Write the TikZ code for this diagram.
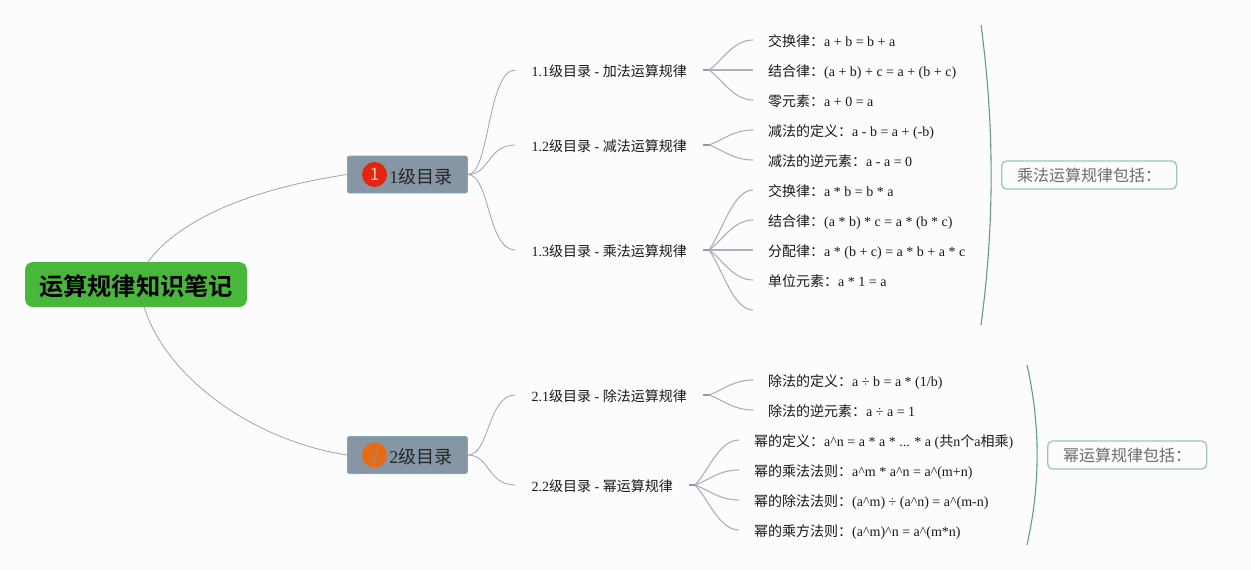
\documentclass[tikz,border=0pt]{standalone}
\usepackage{fontspec}
\setmainfont{Liberation Serif}
\newfontfamily\cjk{Noto Sans CJK SC}[BoldFont={Noto Sans CJK SC Bold}]
\newcommand{\zh}[1]{{\cjk #1}}
\usepackage{tikz}
\usetikzlibrary{positioning,calc}
\definecolor{paper}{HTML}{FCFCFD}
\definecolor{rootgreen}{HTML}{48B83A}
\definecolor{boxgrey}{HTML}{8796A5}
\definecolor{boxedge}{HTML}{7FA9A8}
\definecolor{linegrey}{HTML}{9DA3B0}
\definecolor{fangrey}{HTML}{ABB0BC}
\definecolor{stubgrey}{HTML}{8F99A8}
\definecolor{sumgreen}{HTML}{5F9E8A}
\definecolor{sumedge}{HTML}{9CC7BA}
\definecolor{sumtext}{HTML}{6C6C6C}
\definecolor{badgered}{HTML}{E3260E}
\definecolor{badgeorange}{HTML}{EA6A12}
\tikzstyle{mm_root} = [rectangle, rounded corners=8pt, fill=rootgreen, inner sep=0pt, minimum width=222pt, minimum height=45pt, text height=25pt, text depth=3pt, font=\fontsize{24.2pt}{28pt}\selectfont\bfseries, text=black]
\tikzstyle{mm_main} = [rectangle, rounded corners=2pt, draw=boxedge, fill=boxgrey, line width=0.8pt, inner xsep=15pt, inner ysep=0pt, minimum height=37pt, text height=20pt, text depth=3pt, font=\fontsize{18pt}{22pt}\selectfont, text=black!85]
\tikzstyle{mm_badge} = [circle, inner sep=0pt, minimum size=25pt, font=\fontsize{17pt}{20pt}\selectfont\cjk]
\tikzstyle{mm_sub} = [rectangle, anchor=east, inner xsep=16pt, inner ysep=0pt, text height=16pt, text depth=3pt, font=\fontsize{14pt}{16pt}\selectfont, text=black!90]
\tikzstyle{mm_leaf} = [rectangle, anchor=west, inner xsep=15pt, inner ysep=0pt, text height=16pt, text depth=3pt, font=\fontsize{14pt}{16pt}\selectfont, text=black!90]
\tikzstyle{mm_note} = [rectangle, anchor=west, rounded corners=5pt, draw=sumedge, line width=1.3pt, inner xsep=15.5pt, inner ysep=0pt, minimum height=28pt, font=\fontsize{16pt}{20pt}\selectfont\cjk, text=sumtext]
\tikzstyle{mm_line} = [draw=linegrey, line width=0.8pt]
\tikzstyle{mm_fan} = [draw=fangrey, line width=1.1pt]
\tikzstyle{mm_stub} = [draw=stubgrey, line width=1.6pt]
\tikzstyle{mm_bracket} = [draw=sumgreen, line width=1.1pt]
% curve from a sub topic to one of its leaves
\newcommand{\fanline}[2]{
    \draw[mm_stub] (#1.east) -- ++(7,0);
    \coordinate (fanstart) at ($(#1.east)+(6,0)$);
    \coordinate (fanbend) at ($(fanstart)!.3!(#2.west)$);
    \draw[mm_fan] (fanstart) .. controls (fanbend) and ($(#2.west)+(-20,0)$) .. (#2.west);
}
\newcommand{\mainline}[2]{
    \draw[mm_line] (#1.east) .. controls +(22,0) and +(-28,0) .. (#2.west);
}
\begin{document}
\begin{tikzpicture}[x=1pt,y=-1pt]
\useasboundingbox (0,0) rectangle (1251,570);
\fill[paper] (0,0) rectangle (1251,570);

\node [mm_root] (root) at (136,284.5) {\zh{运算规律知识笔记}};

% first main topic
\node [mm_main, anchor=west] (main1) at (347,174.5) {\hspace*{27pt}1\zh{级目录}};
\node [mm_badge, fill=badgered, text=white!75!badgered, right=27.5pt of main1.west, anchor=center] (badge1) {1};

\node [mm_sub] (sub11) at (703,70) {1.1\zh{级目录} - \zh{加法运算规律}};
\node [mm_sub] (sub12) at (703,145) {1.2\zh{级目录} - \zh{减法运算规律}};
\node [mm_sub] (sub13) at (703,250) {1.3\zh{级目录} - \zh{乘法运算规律}};

\node [mm_leaf] (leaf111) at (753,40) {\zh{交换律：}a + b = b + a};
\node [mm_leaf] (leaf112) at (753,70) {\zh{结合律：}(a + b) + c = a + (b + c)};
\node [mm_leaf] (leaf113) at (753,100) {\zh{零元素：}a + 0 = a};
\node [mm_leaf] (leaf121) at (753,130) {\zh{减法的定义：}a - b = a + (-b)};
\node [mm_leaf] (leaf122) at (753,160) {\zh{减法的逆元素：}a - a = 0};
\node [mm_leaf] (leaf131) at (753,190) {\zh{交换律：}a * b = b * a};
\node [mm_leaf] (leaf132) at (753,220) {\zh{结合律：}(a * b) * c = a * (b * c)};
\node [mm_leaf] (leaf133) at (753,250) {\zh{分配律：}a * (b + c) = a * b + a * c};
\node [mm_leaf] (leaf134) at (753,280) {\zh{单位元素：}a * 1 = a};
\node [mm_leaf] (leaf135) at (753,310) {};

% second main topic
\node [mm_main, anchor=west] (main2) at (347,455) {\hspace*{27pt}2\zh{级目录}};
\node [mm_badge, fill=badgeorange, text=boxgrey!60!badgeorange, right=27.5pt of main2.west, anchor=center] (badge2) {2};

\node [mm_sub] (sub21) at (703,395) {2.1\zh{级目录} - \zh{除法运算规律}};
\node [mm_sub] (sub22) at (689,485) {2.2\zh{级目录} - \zh{幂运算规律}};

\node [mm_leaf] (leaf211) at (753,380) {\zh{除法的定义：}a ÷ b = a * (1/b)};
\node [mm_leaf] (leaf212) at (753,410) {\zh{除法的逆元素：}a ÷ a = 1};
\node [mm_leaf] (leaf221) at (739,440) {\zh{幂的定义：}a\textasciicircum n = a * a * ... * a (\zh{共}n\zh{个}a\zh{相乘})};
\node [mm_leaf] (leaf222) at (739,470) {\zh{幂的乘法法则：}a\textasciicircum m * a\textasciicircum n = a\textasciicircum(m+n)};
\node [mm_leaf] (leaf223) at (739,500) {\zh{幂的除法法则：}(a\textasciicircum m) ÷ (a\textasciicircum n) = a\textasciicircum(m-n)};
\node [mm_leaf] (leaf224) at (739,530) {\zh{幂的乘方法则：}(a\textasciicircum m)\textasciicircum n = a\textasciicircum(m*n)};

% notes on the right
\node [mm_note] (note1) at (1001,175) {乘法运算规律包括：};
\node [mm_note] (note2) at (1047,455) {幂运算规律包括：};
\coordinate (note1a) at (981,25);
\coordinate (note1b) at (981,325);
\coordinate (note2a) at (1027,365);
\coordinate (note2b) at (1027,545);
\draw[mm_bracket] (note1a) .. controls (994.5,125) and (994.5,225) .. (note1b);
\draw[mm_bracket] (note2a) .. controls (1040.5,425) and (1040.5,485) .. (note2b);

% connectors
\draw[mm_line] (root.62) .. controls (185,212) and (270,186) .. (main1.west);
\draw[mm_line] (root.-70) .. controls (165,375) and (250,440) .. (main2.west);
\mainline{main1}{sub11}
\mainline{main1}{sub12}
\mainline{main1}{sub13}
\mainline{main2}{sub21}
\mainline{main2}{sub22}
\fanline{sub11}{leaf111}
\fanline{sub11}{leaf112}
\fanline{sub11}{leaf113}
\fanline{sub12}{leaf121}
\fanline{sub12}{leaf122}
\fanline{sub13}{leaf131}
\fanline{sub13}{leaf132}
\fanline{sub13}{leaf133}
\fanline{sub13}{leaf134}
\fanline{sub13}{leaf135}
\fanline{sub21}{leaf211}
\fanline{sub21}{leaf212}
\fanline{sub22}{leaf221}
\fanline{sub22}{leaf222}
\fanline{sub22}{leaf223}
\fanline{sub22}{leaf224}
\end{tikzpicture}
\end{document}
